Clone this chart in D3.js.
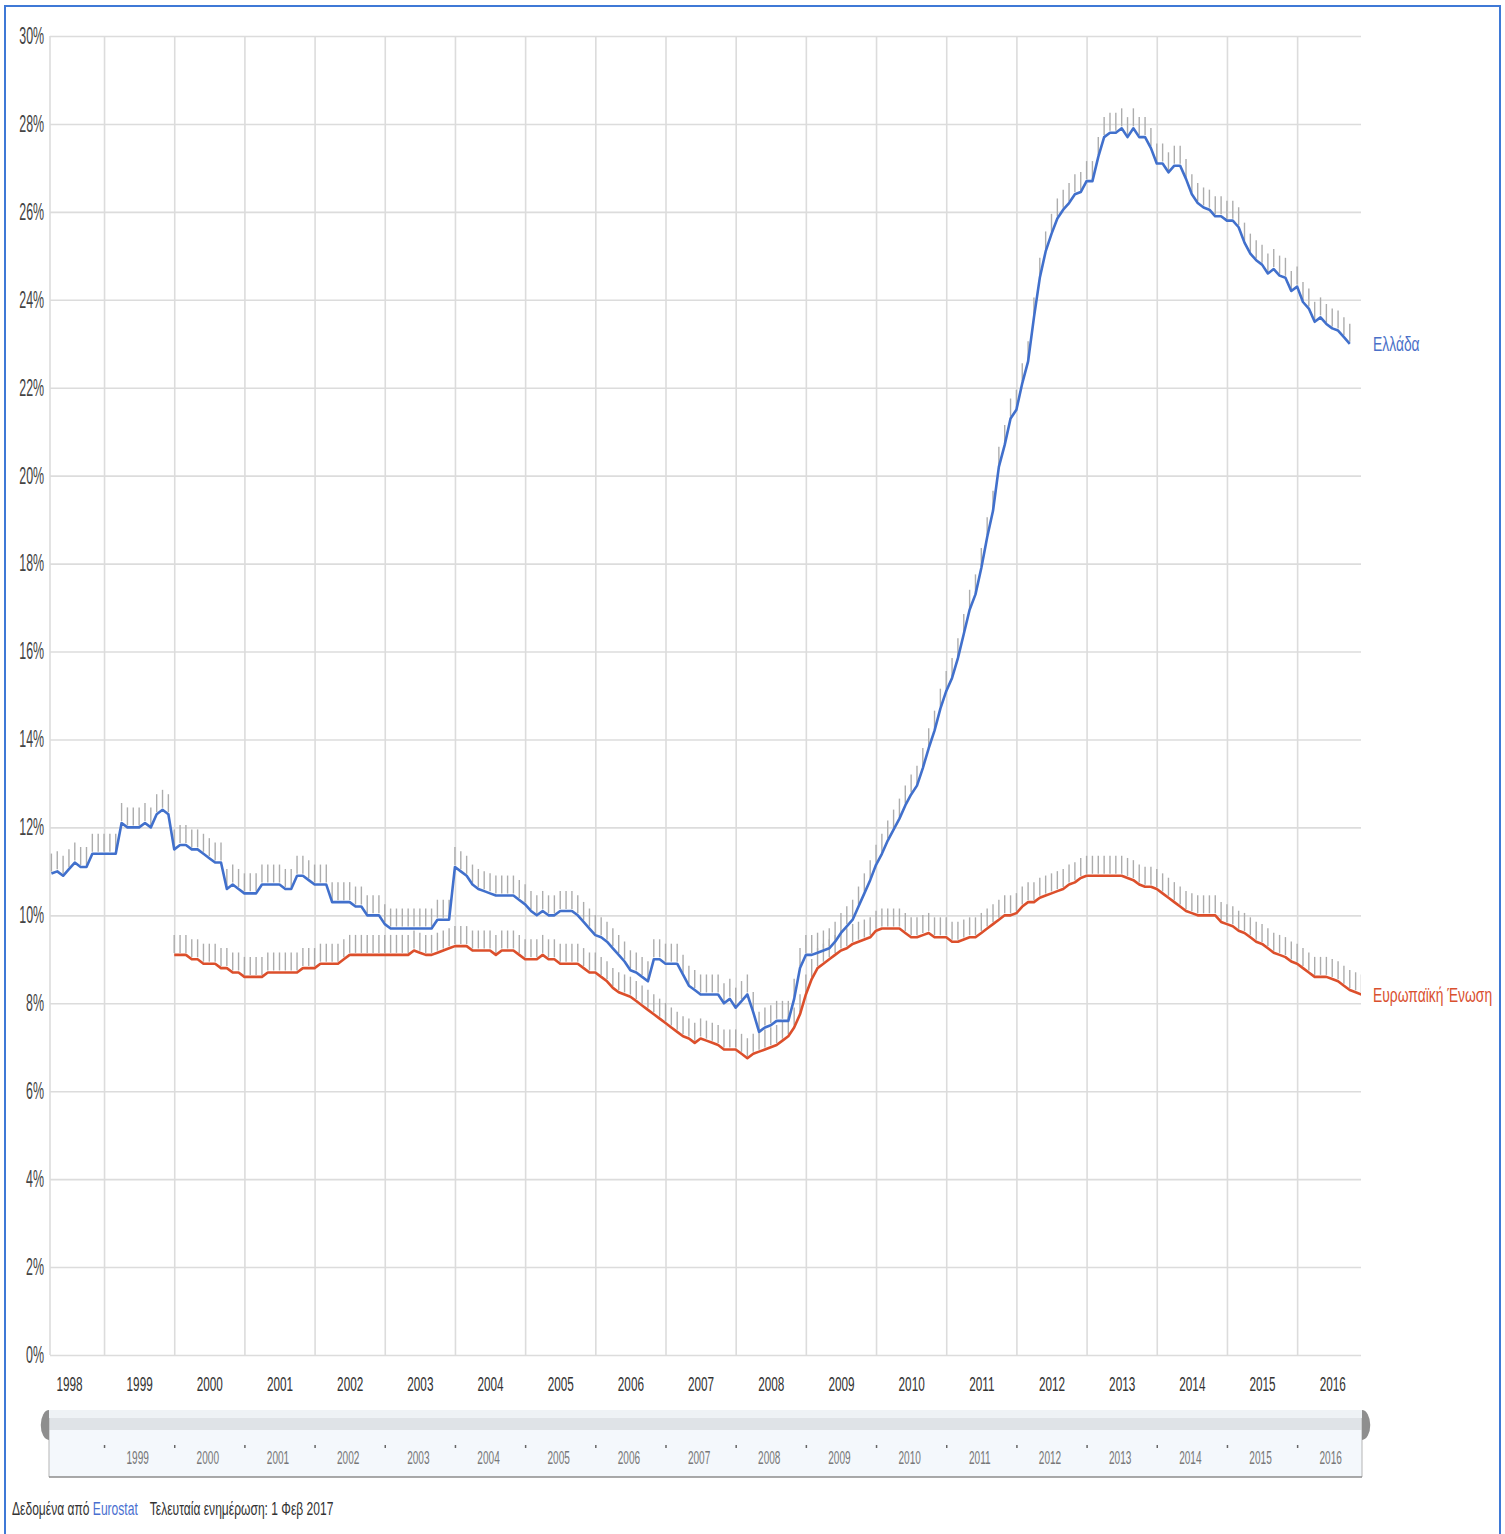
<!DOCTYPE html>
<html>
<head>
<meta charset="utf-8">
<script src="https://cdn.jsdelivr.net/npm/d3@7/dist/d3.min.js"></script>
<style>
  body { margin: 0; background: #fff; }
  svg text { font-family: "Liberation Sans", Arial, sans-serif; }
</style>
</head>
<body>
<svg id="chart" width="1505" height="1534"></svg>
<script>
// ---- data (monthly unemployment rate, %) ----
const years = d3.range(1998, 2017);
const yTicks = d3.range(0, 31, 2);
const seriesNames = ["Ελλάδα", "Ευρωπαϊκή Ένωση"];

// Greece: April 1998 .. October 2016
const greeceStart = { year: 1998, month: 3 };
const greeceRate = [
  10.95, 11.0, 10.9, 11.05, 11.2, 11.1, 11.1, 11.4, 11.4,
  11.4, 11.4, 11.4, 12.1, 12.0, 12.0, 12.0, 12.1, 12.0, 12.3, 12.4, 12.3,
  11.5, 11.6, 11.6, 11.5, 11.5, 11.4, 11.3, 11.2, 11.2, 10.6, 10.7, 10.6,
  10.5, 10.5, 10.5, 10.7, 10.7, 10.7, 10.7, 10.6, 10.6, 10.9, 10.9, 10.8,
  10.7, 10.7, 10.7, 10.3, 10.3, 10.3, 10.3, 10.2, 10.2, 10.0, 10.0, 10.0,
  9.8, 9.7, 9.7, 9.7, 9.7, 9.7, 9.7, 9.7, 9.7, 9.9, 9.9, 9.9,
  11.1, 11.0, 10.9, 10.7, 10.6, 10.55, 10.5, 10.45, 10.45, 10.45, 10.45, 10.35,
  10.25, 10.1, 10.0, 10.1, 10.0, 10.0, 10.1, 10.1, 10.1, 10.0, 9.85, 9.7,
  9.55, 9.5, 9.4, 9.25, 9.1, 8.95, 8.75, 8.7, 8.6, 8.5, 9.0, 9.0,
  8.9, 8.9, 8.9, 8.65, 8.4, 8.3, 8.2, 8.2, 8.2, 8.2, 8.0, 8.1,
  7.9, 8.05, 8.2, 7.8, 7.35, 7.45, 7.5, 7.6, 7.6, 7.6, 8.1, 8.8,
  9.1, 9.1, 9.15, 9.2, 9.25, 9.4, 9.6, 9.75, 9.9, 10.2, 10.5, 10.8,
  11.15, 11.4, 11.7, 11.95, 12.2, 12.5, 12.75, 12.95, 13.35, 13.8, 14.2, 14.7,
  15.1, 15.4, 15.85, 16.4, 16.95, 17.3, 17.9, 18.6, 19.2, 20.2, 20.7, 21.3,
  21.5, 22.1, 22.6, 23.6, 24.5, 25.1, 25.5, 25.85, 26.05, 26.2, 26.4, 26.45,
  26.7, 26.7, 27.25, 27.7, 27.8, 27.8, 27.9, 27.7, 27.9, 27.7, 27.7, 27.45,
  27.1, 27.1, 26.9, 27.05, 27.05, 26.75, 26.4, 26.2, 26.1, 26.05, 25.9, 25.9,
  25.8, 25.8, 25.65, 25.3, 25.05, 24.9, 24.8, 24.6, 24.7, 24.55, 24.5, 24.2,
  24.3, 23.95, 23.8, 23.5, 23.6, 23.45, 23.35, 23.3, 23.15, 23.0
];

// European Union: January 2000 .. December 2016
const euStart = { year: 2000, month: 0 };
const euRate = [
  9.1, 9.1, 9.1, 9.0, 9.0, 8.9, 8.9, 8.9, 8.8, 8.8, 8.7, 8.7,
  8.6, 8.6, 8.6, 8.6, 8.7, 8.7, 8.7, 8.7, 8.7, 8.7, 8.8, 8.8,
  8.8, 8.9, 8.9, 8.9, 8.9, 9.0, 9.1, 9.1, 9.1, 9.1, 9.1, 9.1,
  9.1, 9.1, 9.1, 9.1, 9.1, 9.2, 9.15, 9.1, 9.1, 9.15, 9.2, 9.25,
  9.3, 9.3, 9.3, 9.2, 9.2, 9.2, 9.2, 9.1, 9.2, 9.2, 9.2, 9.1,
  9.0, 9.0, 9.0, 9.1, 9.0, 9.0, 8.9, 8.9, 8.9, 8.9, 8.8, 8.7,
  8.7, 8.6, 8.5, 8.35, 8.25, 8.2, 8.15, 8.05, 7.95, 7.85, 7.75, 7.65,
  7.55, 7.45, 7.35, 7.25, 7.2, 7.1, 7.2, 7.15, 7.1, 7.05, 6.95, 6.95,
  6.95, 6.85, 6.75, 6.85, 6.9, 6.95, 7.0, 7.05, 7.15, 7.25, 7.45, 7.75,
  8.2, 8.55, 8.8, 8.9, 9.0, 9.1, 9.2, 9.25, 9.35, 9.4, 9.45, 9.5,
  9.65, 9.7, 9.7, 9.7, 9.7, 9.6, 9.5, 9.5, 9.55, 9.6, 9.5, 9.5,
  9.5, 9.4, 9.4, 9.45, 9.5, 9.5, 9.6, 9.7, 9.8, 9.9, 10.0, 10.0,
  10.05, 10.2, 10.3, 10.3, 10.4, 10.45, 10.5, 10.55, 10.6, 10.7, 10.75, 10.85,
  10.9, 10.9, 10.9, 10.9, 10.9, 10.9, 10.9, 10.85, 10.8, 10.7, 10.65, 10.65,
  10.6, 10.5, 10.4, 10.3, 10.2, 10.1, 10.05, 10.0, 10.0, 10.0, 10.0, 9.85,
  9.8, 9.75, 9.65, 9.6, 9.5, 9.4, 9.35, 9.25, 9.15, 9.1, 9.05, 8.95,
  8.9, 8.8, 8.7, 8.6, 8.6, 8.6, 8.55, 8.5, 8.4, 8.3, 8.25, 8.2
];

const toPoints = (start, values) => values.map((v, i) => ({
  t: start.year + (start.month + i) / 12,
  v: v
}));
const greece = toPoints(greeceStart, greeceRate);
const eu = toPoints(euStart, euRate);

// ---- layout ----
const W = 1505, H = 1534;
const margin = { top: 36, right: 144, bottom: 179, left: 50 };
const width = W - margin.left - margin.right;
const height = H - margin.top - margin.bottom;

const svg = d3.select("#chart");

svg.append("rect")
  .attr("x", 5).attr("y", 6)
  .attr("width", 1495).attr("height", 1540)
  .attr("fill", "none")
  .attr("stroke", "#3f79d6")
  .attr("stroke-width", 2);

const g = svg.append("g")
  .attr("transform", `translate(${margin.left},${margin.top})`);

// Scales
const xScale = d3.scaleLinear()
  .domain([1998.23, 2016.91])
  .range([0, width]);

const yScale = d3.scaleLinear()
  .domain([0, 30])
  .range([height, 0]);

// Grid
const yGrid = g.append("g")
  .call(d3.axisLeft(yScale).tickValues(yTicks).tickSize(-width).tickFormat(d => d + "%"));
yGrid.select(".domain").remove();
yGrid.selectAll("line").attr("stroke", "#dcdcdc").attr("stroke-width", 1.6);
yGrid.selectAll("text")
  .attr("x", -11)
  .attr("transform", "scale(0.54,1)")
  .style("font-size", "23px")
  .style("fill", "#444");

const xGrid = g.append("g")
  .attr("transform", `translate(0,${height})`)
  .call(d3.axisBottom(xScale).tickValues(years.slice(1)).tickSize(-height).tickFormat(""));
xGrid.select(".domain").remove();
xGrid.selectAll("line").attr("stroke", "#dcdcdc").attr("stroke-width", 1.6);

g.append("line")
  .attr("x1", 0).attr("x2", 0)
  .attr("y1", 0).attr("y2", height)
  .attr("stroke", "#dcdcdc")
  .attr("stroke-width", 1.6);

// Year labels (centred in each year)
const xAxis = g.append("g")
  .attr("transform", `translate(0,${height})`)
  .call(d3.axisBottom(xScale).tickValues(years.map(y => y + 0.5)).tickSize(0)
    .tickFormat(d => Math.floor(d)));
xAxis.select(".domain").remove();
xAxis.selectAll("text")
  .attr("y", 29)
  .attr("dy", "0.35em")
  .attr("transform", "scale(0.56,1)")
  .style("font-size", "21px")
  .style("fill", "#333");

// Plot clip
svg.append("defs").append("clipPath").attr("id", "plot")
  .append("rect").attr("x", 0).attr("y", -30).attr("width", width).attr("height", height + 30);

const plot = g.append("g").attr("clip-path", "url(#plot)");

// Shadow hatching above each series
[eu, greece].forEach(data => {
  plot.selectAll(null)
    .data(data)
    .enter().append("line")
    .attr("x1", d => xScale(d.t))
    .attr("x2", d => xScale(d.t))
    .attr("y1", d => yScale(d.v) - 2)
    .attr("y2", d => yScale(d.v) - 20)
    .attr("stroke", "#adadad")
    .attr("stroke-width", 1.4);
});

const line = d3.line()
  .x(d => xScale(d.t))
  .y(d => yScale(d.v));

plot.append("path")
  .datum(eu)
  .attr("fill", "none")
  .attr("stroke", "#dc4f2b")
  .attr("stroke-width", 2.6)
  .attr("stroke-linejoin", "round")
  .attr("d", line);

plot.append("path")
  .datum(greece)
  .attr("fill", "none")
  .attr("stroke", "#4170cc")
  .attr("stroke-width", 2.6)
  .attr("stroke-linejoin", "round")
  .attr("d", line);

// Series labels at line ends
const ends = [
  { name: seriesNames[0], p: greece[greece.length - 1], color: "#4a6fc8" },
  { name: seriesNames[1], p: eu[eu.length - 1], color: "#d9502f" }
];
g.selectAll(".end-label")
  .data(ends)
  .enter().append("text")
  .attr("class", "end-label")
  .attr("transform", d => `translate(${width + 12},${yScale(d.p.v)}) scale(0.66,1)`)
  .attr("dy", "0.35em")
  .style("font-size", "21px")
  .style("fill", d => d.color)
  .text(d => d.name);

// ---- range slider below the chart ----
const sl = svg.append("g").attr("transform", `translate(${margin.left},0)`);
sl.append("rect")
  .attr("x", -1).attr("y", 1410).attr("width", width + 2).attr("height", 67)
  .attr("fill", "#f4f8fc");
sl.append("rect")
  .attr("x", -1).attr("y", 1410).attr("width", width + 2).attr("height", 8)
  .attr("fill", "#eef2f5");
sl.append("rect")
  .attr("x", -1).attr("y", 1418).attr("width", width + 2).attr("height", 12)
  .attr("fill", "#dfe3e7");
sl.append("line")
  .attr("x1", -1).attr("x2", -1).attr("y1", 1418).attr("y2", 1477)
  .attr("stroke", "#b5b5b5");
sl.append("line")
  .attr("x1", width + 1).attr("x2", width + 1).attr("y1", 1418).attr("y2", 1477)
  .attr("stroke", "#b5b5b5");
sl.append("line")
  .attr("x1", -1).attr("x2", width + 1).attr("y1", 1477).attr("y2", 1477)
  .attr("stroke", "#8c8c8c").attr("stroke-width", 1.5);

const handle = d3.arc().innerRadius(0).outerRadius(15);
sl.append("path")
  .attr("transform", "translate(-1,1425) scale(0.55,1)")
  .attr("d", handle({ startAngle: Math.PI, endAngle: 2 * Math.PI }))
  .attr("fill", "#8e8e8e");
sl.append("path")
  .attr("transform", `translate(${width + 1},1425) scale(0.55,1)`)
  .attr("d", handle({ startAngle: 0, endAngle: Math.PI }))
  .attr("fill", "#8e8e8e");

const mini = sl.append("g").attr("transform", "translate(0,1445)")
  .call(d3.axisBottom(xScale).tickValues(years.slice(1)).tickSize(3).tickFormat(""));
mini.select(".domain").remove();
mini.selectAll("line").attr("stroke", "#666").attr("stroke-width", 1.5);

const miniLabels = sl.append("g").attr("transform", "translate(-2,1440)")
  .call(d3.axisBottom(xScale).tickValues(years.slice(1).map(y => y + 0.5)).tickSize(0)
    .tickFormat(d => Math.floor(d)));
miniLabels.select(".domain").remove();
miniLabels.selectAll("text")
  .attr("y", 18)
  .attr("dy", "0.35em")
  .attr("transform", "scale(0.56,1)")
  .style("font-size", "18px")
  .style("fill", "#777");

// ---- source line ----
const foot = svg.append("text")
  .attr("transform", "translate(12,1515) scale(0.67,1)")
  .style("font-size", "18px")
  .style("fill", "#333");
foot.append("tspan").text("Δεδομένα από ");
foot.append("tspan").style("fill", "#4a6fd0").text("Eurostat");
foot.append("tspan").attr("dx", 18).text("Τελευταία ενημέρωση: 1 Φεβ 2017");
</script>
</body>
</html>
